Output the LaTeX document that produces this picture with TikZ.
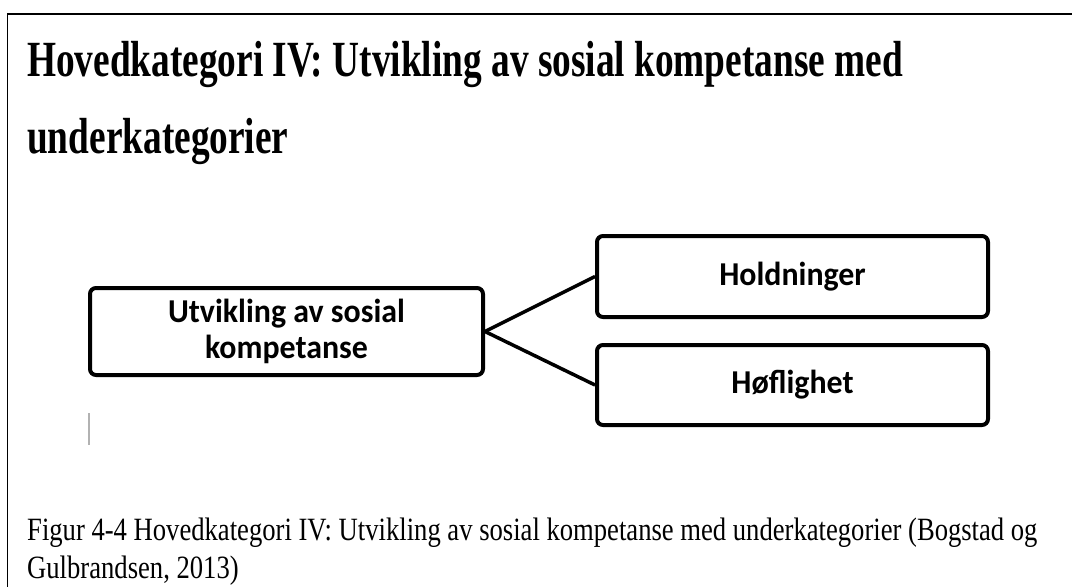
\documentclass[tikz,border=0pt]{standalone}
\usepackage{fontspec}
\setmainfont{Liberation Serif}
\newfontfamily\boxfont{Carlito}
\begin{document}
\begin{tikzpicture}[x=1pt,y=-1pt,
  titletext/.style={anchor=base west,inner sep=0pt,font={\bfseries\fontsize{39}{39}\selectfont}},
  captext/.style={anchor=base west,inner sep=0pt,font={\fontsize{25}{25}\selectfont}},
  catbox/.style={draw=black,line width=4pt,rounded corners=6pt,fill=white,
    align=center,inner sep=0pt,font={\boxfont\bfseries\fontsize{29}{36}\selectfont}},
  conn/.style={draw=black,line width=3.5pt}]
\useasboundingbox (0,0) rectangle (1072,587);
% frame
\draw[line width=1.8pt] (1072,14) -- (7.5,14) -- (7.5,587);
% title
\node[titletext] (t1) at (27,76) {\scalebox{0.957}[1.3]{Hovedkategori IV: Utvikling av sosial kompetanse med}};
\node[titletext] (t2) at (27,153) {\scalebox{0.957}[1.3]{underkategorier}};
% boxes
\node[catbox,minimum width=393pt,minimum height=87pt] (L) at (286.5,331.5)
  {\scalebox{1.1}[1.15]{Utvikling av sosial}\\\scalebox{1.1}[1.15]{kompetanse}};
\node[catbox,minimum width=391pt,minimum height=81pt] (H) at (792.5,276.5)
  {\scalebox{1.1}[1.15]{Holdninger}};
\node[catbox,minimum width=391pt,minimum height=80pt] (F) at (792.5,385)
  {\scalebox{1.1}[1.15]{Høflighet}};
\draw[conn] (L.east) -- (H.west);
\draw[conn] (L.east) -- (F.west);
% faint mark
\coordinate (m1) at (89,413);
\coordinate (m2) at (89,445);
\draw[gray!60,line width=1.5pt] (m1) -- (m2);
% caption
\node[captext] (c1) at (27,540) {\scalebox{1.065}[1.3]{Figur 4-4 Hovedkategori IV: Utvikling av sosial kompetanse med underkategorier (Bogstad og}};
\node[captext] (c2) at (27,578) {\scalebox{1.065}[1.3]{Gulbrandsen, 2013)}};
\end{tikzpicture}
\end{document}
